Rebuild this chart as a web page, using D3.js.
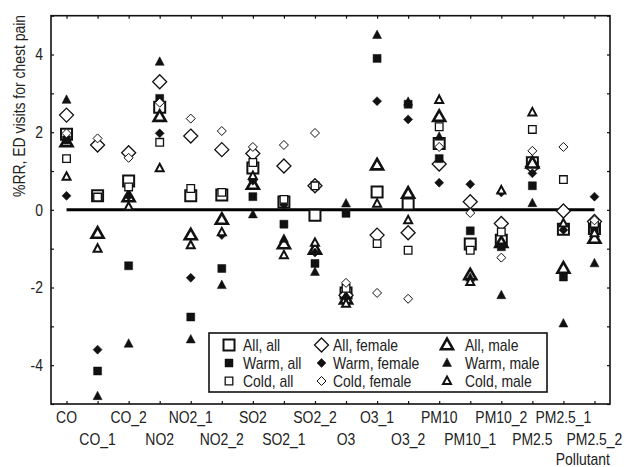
<!DOCTYPE html>
<html><head><meta charset="utf-8">
<script src="https://cdn.jsdelivr.net/npm/d3@7"></script>
<style>
html,body{margin:0;padding:0;background:#fff;}
text{font-family:"Liberation Sans",Arial,sans-serif;fill:#222;}
</style></head>
<body>
<svg id="chart" width="625" height="467"></svg>
<script>
const categories = ["CO","CO_1","CO_2","NO2","NO2_1","NO2_2","SO2","SO2_1","SO2_2","O3","O3_1","O3_2","PM10","PM10_1","PM10_2","PM2.5","PM2.5_1","PM2.5_2"];
const allAll     = [1.95, 0.36, 0.74, 2.64, 0.36, 0.38, 1.08, 0.20, -0.14, -2.14, 0.46, 0.15, 1.71, -0.88, -0.78, 1.21, -0.50, -0.48];
const allFemale  = [2.44, 1.67, 1.47, 3.30, 1.90, 1.55, 1.45, 1.13, 0.62, -2.20, -0.65, -0.59, 1.18, 0.21, -0.35, 1.11, -0.03, -0.30];
const allMale    = [1.75, -0.61, 0.33, 2.40, -0.65, -0.25, 0.65, -0.88, -1.02, -2.30, 1.15, 0.42, 2.40, -1.68, -0.85, 1.20, -1.51, -0.74];
const warmAll    = [1.80, -4.15, -1.44, 2.87, -2.76, -1.51, 0.34, -0.37, -1.38, -0.09, 3.90, 2.72, 1.32, -0.54, -0.95, 0.62, -1.73, -0.52];
const warmFemale = [0.36, -3.60, 0.35, 1.97, -1.75, -0.65, 0.75, 0.13, -1.10, -2.25, 2.80, 2.33, 0.70, 0.66, 0.45, 0.94, -0.52, 0.34];
const warmMale   = [2.83, -4.80, -3.45, 3.81, -3.34, -1.94, -0.12, -0.75, -1.60, 0.16, 4.50, 2.78, 1.88, -1.75, -2.20, 0.17, -2.93, -1.38];
const coldAll    = [1.32, 0.33, 0.59, 1.74, 0.55, 0.45, 1.22, 0.27, 0.62, -2.02, -0.87, -1.04, 2.14, -1.04, -0.57, 2.07, 0.78, -0.35];
const coldFemale = [1.97, 1.84, 1.34, 2.76, 2.35, 2.03, 1.62, 1.67, 1.98, -1.88, -2.14, -2.29, 1.62, -0.08, -1.23, 1.52, 1.62, -0.27];
const coldMale   = [0.85, -1.00, 0.08, 1.07, -0.91, -0.58, 0.87, -1.17, -0.85, -2.42, 0.16, -0.27, 2.83, -1.86, 0.50, 2.51, -0.35, -0.60];
const yTicks = [-5,-4,-3,-2,-1,0,1,2,3,4,5];
const yLabels = [-4,-2,0,2,4];
const yTitle = "%RR, ED visits for chest pain";
const xTitle = "Pollutant";

// marker shapes
function sq(s){return `M${-s},${-s}H${s}V${s}H${-s}Z`;}
function dm(s){return `M0,${-s}L${s},0L0,${s}L${-s},0Z`;}
function tr(w,h){return `M0,${-h*0.6}L${w/2},${h*0.4}H${-w/2}Z`;}

const series = [
  {name:"All, all",     values:allAll,     path:sq(5.5), fill:"#fff", stroke:"#111", sw:2},
  {name:"All, female",  values:allFemale,  path:dm(7),   fill:"#fff", stroke:"#111", sw:1.3},
  {name:"All, male",    values:allMale,    path:tr(12,10.5), fill:"#fff", stroke:"#111", sw:2.6},
  {name:"Warm, all",    values:warmAll,    path:sq(4),   fill:"#111", stroke:"#111", sw:0.5},
  {name:"Warm, female", values:warmFemale, path:dm(4.5), fill:"#111", stroke:"#111", sw:0.5},
  {name:"Warm, male",   values:warmMale,   path:tr(9,8.5), fill:"#111", stroke:"#111", sw:0.5},
  {name:"Cold, all",    values:coldAll,    path:sq(3.8), fill:"#fff", stroke:"#111", sw:1.3},
  {name:"Cold, female", values:coldFemale, path:dm(4.5), fill:"#fff", stroke:"#111", sw:1},
  {name:"Cold, male",   values:coldMale,   path:tr(8,7.5), fill:"#fff", stroke:"#111", sw:2}
];

const L=51, R=610, T=15.7, B=404;
const FS=17, NARROW=0.82;
const svg = d3.select("#chart");
const x = d3.scalePoint().domain(categories).range([L,R]).padding(0.5);
const y = d3.scaleLinear().domain([-5,5]).range([B,T]);

// frame
svg.append("rect").attr("x",L).attr("y",T).attr("width",R-L).attr("height",B-T)
  .attr("fill","none").attr("stroke","#111").attr("stroke-width",1.6);

const fmt = d => yLabels.includes(d) ? String(d) : "";
const ax = (g)=>{g.select(".domain").remove(); g.selectAll(".tick line").attr("stroke","#111").attr("stroke-width",1.2);};

svg.append("g").attr("transform",`translate(${L},0)`)
  .call(d3.axisLeft(y).tickValues(yTicks).tickSize(-3).tickPadding(8).tickFormat(fmt))
  .call(ax).call(g=>{g.attr("font-family",null).attr("font-size",null); g.selectAll("text").attr("font-size",FS).attr("fill","#222");});
svg.append("g").attr("transform",`translate(${R},0)`)
  .call(d3.axisRight(y).tickValues(yTicks).tickSize(-3).tickFormat(""))
  .call(ax);
svg.append("g").attr("transform",`translate(0,${B})`)
  .call(d3.axisBottom(x).tickSize(-3).tickFormat(""))
  .call(ax);
svg.append("g").attr("transform",`translate(0,${T})`)
  .call(d3.axisTop(x).tickSize(-3).tickFormat(""))
  .call(ax);

// x labels in two rows
svg.append("g").selectAll("text").data(categories).join("text")
  .attr("x",d=>x(d)).attr("y",(d,i)=> i%2===0 ? 423 : 445)
  .attr("text-anchor","middle").attr("font-size",FS).text(d=>d);

svg.append("text").attr("x",R).attr("y",465).attr("text-anchor","end").attr("font-size",FS).text(xTitle);
svg.append("text").attr("transform",`translate(25,106) rotate(-90)`).attr("text-anchor","middle").attr("font-size",FS).text(yTitle);

// zero line
svg.append("line").attr("x1",x(categories[0])).attr("x2",x(categories[categories.length-1]))
  .attr("y1",y(0)).attr("y2",y(0)).attr("stroke","#000").attr("stroke-width",3);

// points
series.forEach(s=>{
  svg.append("g").selectAll("path").data(s.values).join("path")
    .attr("d",s.path)
    .attr("transform",(v,i)=>`translate(${x(categories[i])},${y(v)})`)
    .attr("fill",s.fill).attr("stroke",s.stroke).attr("stroke-width",s.sw).attr("stroke-linejoin","miter");
});

// legend
const lg = svg.append("g");
lg.append("rect").attr("x",209).attr("y",333).attr("width",338).attr("height",59)
  .attr("fill","#fff").attr("stroke","#111").attr("stroke-width",1.6);
const colMarker=[229,321.5,447], colText=[243,333,465], rowY=[345,363,381];
series.forEach((s,i)=>{
  const c = i%3, r = Math.floor(i/3);
  lg.append("path").attr("d",s.path).attr("transform",`translate(${colMarker[c]},${rowY[r]})`)
    .attr("fill",s.fill).attr("stroke",s.stroke).attr("stroke-width",s.sw);
  lg.append("text").attr("x",colText[c]).attr("y",rowY[r]+6).attr("font-size",FS).text(s.name);
});

// condense all text to mimic a narrow face
svg.selectAll("text").each(function(){
  const t = d3.select(this);
  if(!t.text()) return;
  const w = this.getComputedTextLength();
  t.attr("textLength", w*NARROW).attr("lengthAdjust","spacingAndGlyphs");
});
</script>
</body></html>
